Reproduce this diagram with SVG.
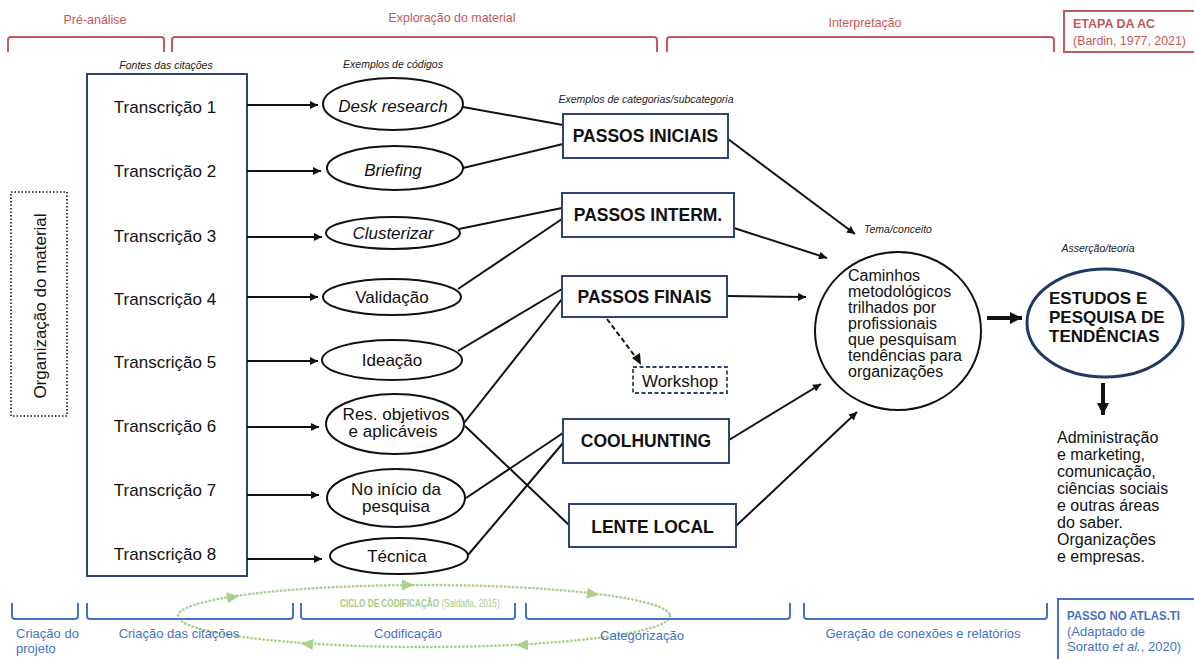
<svg xmlns="http://www.w3.org/2000/svg" width="1194" height="659" viewBox="0 0 1194 659">
  <style>
    text { font-family: "Liberation Sans", Arial, sans-serif; fill: #111; }
    .hdr { font-size: 13.5px; fill: #c4585a; }
    .hdr-b { font-size: 12.5px; fill: #c4585a; font-weight: bold; }
    .hdr-n { font-size: 12.5px; fill: #c4585a; }
    .brk-r { fill: none; stroke: #c4585a; stroke-width: 2; }
    .brk-b { fill: none; stroke: #4472c4; stroke-width: 2; }
    .step { font-size: 13px; fill: #4472c4; }
    .step-b { font-size: 12px; fill: #4472c4; font-weight: bold; }
    .cap { font-size: 10.5px; font-style: italic; fill: #222; }
    .lbl { font-size: 17px; }
    .it { font-style: italic; }
    .code { fill: #fff; stroke: #111; stroke-width: 2; }
    .cat { fill: #fff; stroke: #2d4373; stroke-width: 2; }
    .cat-t { font-size: 17.5px; font-weight: bold; text-anchor: middle; }
    .mid { text-anchor: middle; }
    .edge { fill: none; stroke: #111; stroke-width: 2; }
    .arr { fill: none; stroke: #111; stroke-width: 2; marker-end: url(#ah); }
    .thick { fill: none; stroke: #111; stroke-width: 4; marker-end: url(#ahb); }
    .cyc { fill: none; stroke: #a9d18e; stroke-width: 2.5; stroke-dasharray: 0.5 3.5; stroke-linecap: round; }
    .cyc-h { fill: #a9d18e; }
    .cyc-t { font-size: 10px; fill: #a2cc86; }
    .body { font-size: 16px; }
  </style>
  <defs>
    <marker id="ah" viewBox="0 0 10 10" refX="10" refY="5" markerWidth="10" markerHeight="8" markerUnits="userSpaceOnUse" orient="auto">
      <path d="M0,0 L10,5 L0,10 z" fill="#111"/>
    </marker>
    <marker id="ahb" viewBox="0 0 10 10" refX="10" refY="5" markerWidth="12" markerHeight="14" markerUnits="userSpaceOnUse" orient="auto">
      <path d="M0,0 L10,5 L0,10 z" fill="#111"/>
    </marker>
    <polygon id="gh" points="-6,-5.5 6,0 -6,5.5"/>
  </defs>

  <!-- analysis stages (top) -->
  <g id="stages-top">
    <text class="hdr" x="95" y="24" text-anchor="middle" textLength="63" lengthAdjust="spacingAndGlyphs">Pré-análise</text>
    <path class="brk-r" d="M8,52 V40 Q8,37 11,37 H161 Q164,37 164,40 V52"/>
    <text class="hdr" x="452" y="22" text-anchor="middle" textLength="127" lengthAdjust="spacingAndGlyphs">Exploração do material</text>
    <path class="brk-r" d="M172,52 V40 Q172,37 175,37 H654 Q657,37 657,40 V52"/>
    <text class="hdr" x="865" y="27" text-anchor="middle" textLength="73" lengthAdjust="spacingAndGlyphs">Interpretação</text>
    <path class="brk-r" d="M667,52 V40 Q667,37 670,37 H1051 Q1054,37 1054,40 V52"/>
    <rect x="1064" y="11" width="140" height="41" fill="none" stroke="#c4585a" stroke-width="2"/>
    <text class="hdr-b" x="1073" y="28" textLength="82" lengthAdjust="spacingAndGlyphs">ETAPA DA AC</text>
    <text class="hdr-n" x="1073" y="45" textLength="113" lengthAdjust="spacingAndGlyphs">(Bardin, 1977, 2021)</text>
  </g>

  <!-- column captions -->
  <text class="cap mid" x="166" y="69">Fontes das citações</text>
  <text class="cap mid" x="393" y="68">Exemplos de códigos</text>
  <text class="cap mid" x="646" y="103">Exemplos de categorias/subcategoria</text>
  <text class="cap mid" x="898" y="233">Tema/conceito</text>
  <text class="cap mid" x="1098" y="252">Asserção/teoria</text>

  <!-- material organisation -->
  <g id="organizacao">
    <rect x="11" y="192" width="56" height="224" fill="none" stroke="#111" stroke-width="1.6" stroke-dasharray="1.5 2"/>
    <text class="lbl" transform="translate(46,306) rotate(-90)" text-anchor="middle">Organização do material</text>
  </g>

  <!-- transcription sources -->
  <g id="fontes">
    <rect x="87" y="74" width="160" height="502" fill="#fff" stroke="#2d4373" stroke-width="2"/>
    <text class="lbl mid" x="165" y="113">Transcrição 1</text>
    <text class="lbl mid" x="165" y="177">Transcrição 2</text>
    <text class="lbl mid" x="165" y="242">Transcrição 3</text>
    <text class="lbl mid" x="165" y="305">Transcrição 4</text>
    <text class="lbl mid" x="165" y="368">Transcrição 5</text>
    <text class="lbl mid" x="165" y="432">Transcrição 6</text>
    <text class="lbl mid" x="165" y="496">Transcrição 7</text>
    <text class="lbl mid" x="165" y="560">Transcrição 8</text>
  </g>

  <!-- connectors -->
  <g id="connectors">
    <!-- transcriptions to codes -->
    <line class="arr" x1="247" y1="105" x2="318" y2="105"/>
    <line class="arr" x1="247" y1="171" x2="321" y2="171"/>
    <line class="arr" x1="247" y1="237" x2="322" y2="237"/>
    <line class="arr" x1="247" y1="297" x2="318" y2="297"/>
    <line class="arr" x1="247" y1="361" x2="318" y2="361"/>
    <line class="arr" x1="247" y1="427" x2="319" y2="427"/>
    <line class="arr" x1="247" y1="495" x2="319" y2="495"/>
    <line class="arr" x1="247" y1="559" x2="322" y2="559"/>
    <!-- codes to categories -->
    <line class="edge" x1="463" y1="107" x2="563" y2="125"/>
    <line class="edge" x1="463" y1="168" x2="563" y2="144"/>
    <line class="edge" x1="459" y1="229" x2="562" y2="208"/>
    <line class="edge" x1="458" y1="289" x2="562" y2="219"/>
    <line class="edge" x1="458" y1="351" x2="562" y2="289"/>
    <line class="edge" x1="464" y1="423" x2="562" y2="299"/>
    <line class="edge" x1="465" y1="426" x2="569" y2="525"/>
    <line class="edge" x1="466" y1="498" x2="563" y2="433"/>
    <line class="edge" x1="468" y1="555" x2="563" y2="443"/>
    <!-- categories to theme -->
    <line class="arr" x1="728" y1="139" x2="855" y2="234"/>
    <line class="arr" x1="734" y1="228" x2="827" y2="258"/>
    <line class="arr" x1="727" y1="296" x2="806" y2="297"/>
    <line class="arr" x1="729" y1="440" x2="821" y2="384"/>
    <line class="arr" x1="736" y1="526" x2="857" y2="412"/>
    <!-- sub-code -->
    <line class="edge" x1="607" y1="319" x2="637" y2="359" stroke-dasharray="5 3"/>
    <path d="M641,365 L632,358 L640,353 z" fill="#111"/>
    <!-- theme to assertion to fields -->
    <line class="thick" x1="987" y1="318" x2="1022" y2="318"/>
    <line class="thick" x1="1103" y1="383" x2="1103" y2="415"/>
  </g>

  <!-- codes -->
  <g id="code-desk"><ellipse class="code" cx="393" cy="104" rx="70" ry="26"/><text class="lbl mid it" x="393" y="112">Desk research</text></g>
  <g id="code-briefing"><ellipse class="code" cx="395" cy="168" rx="68" ry="22"/><text class="lbl mid it" x="393" y="176">Briefing</text></g>
  <g id="code-clusterizar"><ellipse class="code" cx="393" cy="233" rx="67" ry="16"/><text class="lbl mid it" x="393" y="239">Clusterizar</text></g>
  <g id="code-validacao"><ellipse class="code" cx="392" cy="297" rx="69" ry="18"/><text class="lbl mid" x="392" y="303">Validação</text></g>
  <g id="code-ideacao"><ellipse class="code" cx="392" cy="360" rx="70" ry="20"/><text class="lbl mid" x="392" y="366">Ideação</text></g>
  <g id="code-resobj"><ellipse class="code" cx="395" cy="424" rx="69" ry="30"/><text class="lbl mid" x="396" y="420">Res. objetivos</text><text class="lbl mid" x="393" y="437">e aplicáveis</text></g>
  <g id="code-inicio"><ellipse class="code" cx="396" cy="498" rx="69" ry="29"/><text class="lbl mid" x="396" y="495">No início da</text><text class="lbl mid" x="396" y="512">pesquisa</text></g>
  <g id="code-tecnica"><ellipse class="code" cx="399" cy="556" rx="69" ry="18"/><text class="lbl mid" x="397" y="562">Técnica</text></g>

  <!-- categories -->
  <g id="cat-iniciais"><rect class="cat" x="563" y="114" width="165" height="44"/><text class="cat-t" x="645.5" y="142">PASSOS INICIAIS</text></g>
  <g id="cat-interm"><rect class="cat" x="562" y="193" width="172" height="44"/><text class="cat-t" x="648" y="221">PASSOS INTERM.</text></g>
  <g id="cat-finais"><rect class="cat" x="562" y="276" width="165" height="41"/><text class="cat-t" x="644.5" y="303">PASSOS FINAIS</text></g>
  <g id="cat-coolhunting"><rect class="cat" x="563" y="419" width="166" height="44"/><text class="cat-t" x="646" y="447">COOLHUNTING</text></g>
  <g id="cat-lente"><rect class="cat" x="569" y="504" width="167" height="43"/><text class="cat-t" x="652.5" y="533">LENTE LOCAL</text></g>

  <g id="sub-workshop">
    <rect x="633" y="367" width="94" height="26" fill="#fff" stroke="#2d4373" stroke-width="1.8" stroke-dasharray="4 2.5"/>
    <text class="lbl mid" x="680" y="387">Workshop</text>
  </g>

  <!-- theme -->
  <g id="tema">
    <ellipse cx="898" cy="331" rx="83" ry="79" fill="#fff" stroke="#111" stroke-width="2"/>
    <text class="body" x="848" y="281">Caminhos</text>
    <text class="body" x="848" y="297">metodológicos</text>
    <text class="body" x="848" y="313">trilhados por</text>
    <text class="body" x="848" y="329">profissionais</text>
    <text class="body" x="848" y="345">que pesquisam</text>
    <text class="body" x="848" y="361">tendências para</text>
    <text class="body" x="848" y="377">organizações</text>
  </g>

  <!-- assertion -->
  <g id="assercao">
    <ellipse cx="1105" cy="323" rx="78" ry="54" fill="#fff" stroke="#1f3864" stroke-width="3"/>
    <text x="1049" y="304" font-size="17" font-weight="bold">ESTUDOS E</text>
    <text x="1049" y="323" font-size="17" font-weight="bold">PESQUISA DE</text>
    <text x="1049" y="342" font-size="17" font-weight="bold">TENDÊNCIAS</text>
  </g>

  <!-- application fields -->
  <g id="campos">
    <text class="body" x="1057" y="443">Administração</text>
    <text class="body" x="1057" y="460">e marketing,</text>
    <text class="body" x="1057" y="477">comunicação,</text>
    <text class="body" x="1057" y="494">ciências sociais</text>
    <text class="body" x="1057" y="511">e outras áreas</text>
    <text class="body" x="1057" y="528">do saber.</text>
    <text class="body" x="1057" y="545">Organizações</text>
    <text class="body" x="1057" y="562">e empresas.</text>
  </g>

  <!-- coding cycle -->
  <g id="ciclo">
    <ellipse class="cyc" cx="424" cy="616" rx="246" ry="31"/>
    <use href="#gh" class="cyc-h" transform="translate(233,597) rotate(-9)"/>
    <use href="#gh" class="cyc-h" transform="translate(408,585) rotate(0)"/>
    <use href="#gh" class="cyc-h" transform="translate(593,594) rotate(7)"/>
    <use href="#gh" class="cyc-h" transform="translate(522,645) rotate(177)"/>
    <use href="#gh" class="cyc-h" transform="translate(307,644) rotate(184)"/>
    <text class="cyc-t" transform="translate(340,607) scale(0.82,1)"><tspan font-weight="bold">CICLO DE CODIFICAÇÃO</tspan> (Saldaña, 2015)</text>
  </g>

  <!-- ATLAS.ti steps (bottom) -->
  <g id="stages-bottom">
    <path class="brk-b" d="M12,603 V616 Q12,619 15,619 H75 Q78,619 78,616 V603"/>
    <text class="step" x="16" y="638">Criação do</text>
    <text class="step" x="16" y="653">projeto</text>
    <path class="brk-b" d="M87,603 V616 Q87,619 90,619 H290 Q293,619 293,616 V603"/>
    <text class="step" x="179" y="638" text-anchor="middle">Criação das citações</text>
    <path class="brk-b" d="M301,603 V616 Q301,619 304,619 H512 Q515,619 515,616 V603"/>
    <text class="step" x="408" y="638" text-anchor="middle">Codificação</text>
    <path class="brk-b" d="M526,603 V616 Q526,619 529,619 H787 Q790,619 790,616 V603"/>
    <text class="step" x="642" y="640" text-anchor="middle">Categorização</text>
    <path class="brk-b" d="M804,603 V616 Q804,619 807,619 H1044 Q1047,619 1047,616 V603"/>
    <text class="step" x="923" y="638" text-anchor="middle">Geração de conexões e relatórios</text>
    <rect x="1058" y="599" width="145" height="70" fill="none" stroke="#4472c4" stroke-width="2"/>
    <text class="step-b" x="1067" y="620" textLength="113" lengthAdjust="spacingAndGlyphs">PASSO NO ATLAS.TI</text>
    <text class="step" x="1067" y="636">(Adaptado de</text>
    <text class="step" x="1067" y="651">Soratto <tspan font-style="italic">et al.</tspan>, 2020)</text>
  </g>
</svg>
